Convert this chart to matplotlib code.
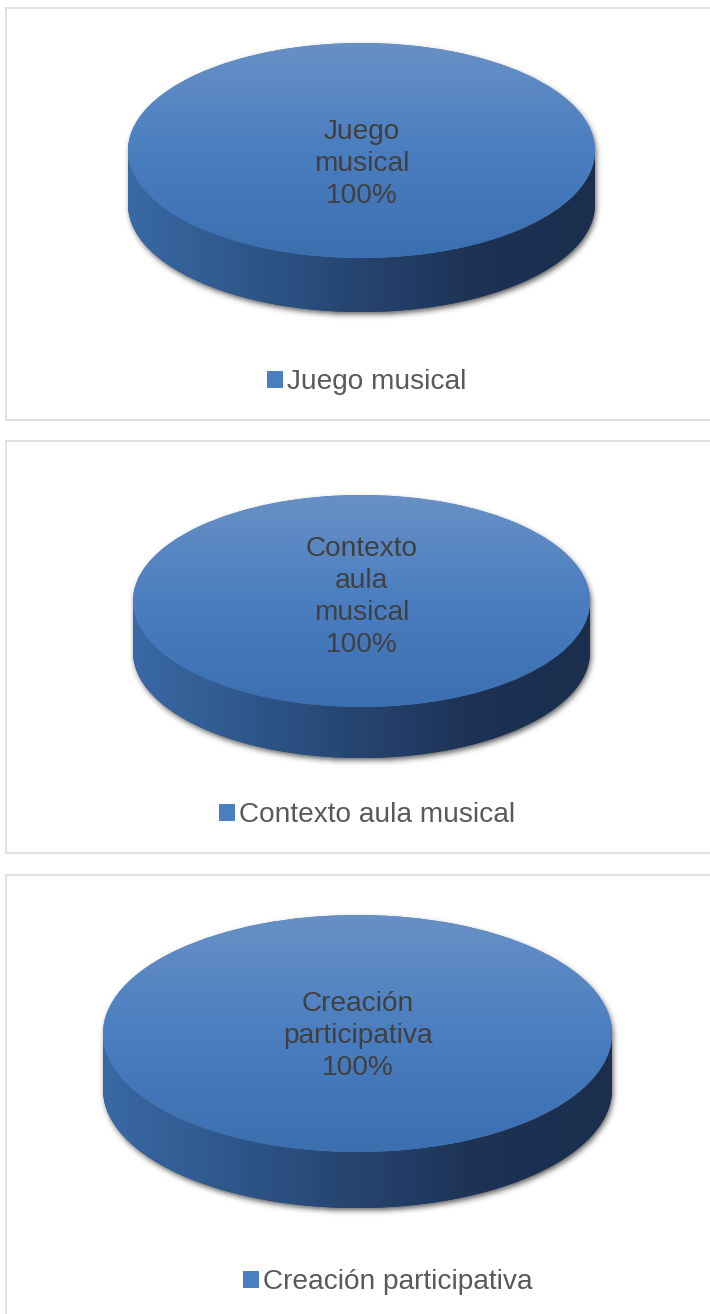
import numpy as np
import matplotlib
matplotlib.use("Agg")
import matplotlib.pyplot as plt
from matplotlib.patches import Polygon
from matplotlib.colors import LinearSegmentedColormap

plt.rcParams['font.family'] = ['Liberation Sans', 'DejaVu Sans']

# ---------------- data ----------------
categories = ["Juego musical", "Contexto aula musical", "Creación participativa"]
center_labels = ["Juego\nmusical", "Contexto\naula\nmusical", "Creación\nparticipativa"]
shares_juego = [100]
shares_contexto = [100]
shares_creacion = [100]
pie_values = [shares_juego, shares_contexto, shares_creacion]

# ---------------- layout (pixels, image coords with y downward) ----------------
W, H, DPI = 710, 1314, 100
panel_boxes = [(6, 8, 730, 420), (6, 441, 730, 853), (6, 875, 740, 1340)]
pie_geom = [(361.5, 150.5, 233.5, 107.5, 54),
            (361.5, 601.0, 228.5, 106.0, 51),
            (357.5, 1033.5, 254.5, 118.5, 56)]
label_y = [164, 597, 1036]
legend_pos = [(367, 382), (367.5, 815), (388, 1282)]
spines_visible = [("left", "top", "bottom"), ("left", "top", "bottom"), ("left", "top")]

FS = 28 * 72 / DPI
top_cmap = LinearSegmentedColormap.from_list("top", ["#3c6fb0", "#4a7ec0", "#6890c6"])
side_cmap = LinearSegmentedColormap.from_list(
    "side", ["#3a69a5", "#2f578b", "#25446f", "#1d3254", "#1b2e4e"])


def blur(a, sigma):
    r = int(3 * sigma)
    k = np.exp(-0.5 * (np.arange(-r, r + 1) / sigma) ** 2)
    k /= k.sum()
    p = np.pad(a, r, mode='constant')
    tmp = sum(k[j] * np.roll(p, j - r, axis=1) for j in range(2 * r + 1))
    out = sum(k[j] * np.roll(tmp, j - r, axis=0) for j in range(2 * r + 1))
    return out[r:-r, r:-r]


fig = plt.figure(figsize=(W / DPI, H / DPI), dpi=DPI)
fig.patch.set_facecolor('white')

for i in range(3):
    x0, y0, x1, y1 = panel_boxes[i]
    cx, cy, rx, ry, depth = pie_geom[i]
    ax = fig.add_axes([x0 / W, 1 - y1 / H, (x1 - x0) / W, (y1 - y0) / H])

    wedges, _ = ax.pie(pie_values[i], radius=1, center=(0, 0), startangle=90,
                       counterclock=False, colors=["#4a7ebf"],
                       wedgeprops=dict(linewidth=0))
    top = wedges[0]
    top.set_zorder(2)
    d = depth / ry

    # soft shadow (silhouette of the disc, shifted and blurred)
    pad = 20
    Xs = np.arange(-rx - pad, rx + pad + 1, 1.0)
    Ys = np.arange(-ry - depth - pad, ry + pad + 1, 1.0)
    XX, YY = np.meshgrid(Xs, Ys)
    sx, sy = 1.5, -3.0
    Xr = (XX - sx) / rx
    Yr = (YY - sy)
    inside = np.abs(Xr) <= 1
    half = ry * np.sqrt(np.clip(1 - Xr ** 2, 0, None))
    mask = (inside & (Yr <= half) & (Yr >= -depth - half)).astype(float)
    sh = blur(mask, 3.0)
    rgba = np.zeros(sh.shape + (4,))
    rgba[..., 3] = 0.65 * sh
    ax.imshow(rgba, extent=[Xs[0] / rx, Xs[-1] / rx, Ys[0] / ry, Ys[-1] / ry],
              origin='lower', aspect='auto', zorder=0.2, interpolation='bilinear')

    # side of the disc
    t = np.linspace(np.pi, 2 * np.pi, 200)
    upper = np.column_stack([np.cos(t), np.sin(t)])
    lower = np.column_stack([np.cos(t[::-1]), np.sin(t[::-1]) - d])
    side = Polygon(np.vstack([upper, lower]), closed=True, facecolor="#25446f",
                   edgecolor='none', zorder=1)
    ax.add_patch(side)
    hgrad = np.linspace(0, 1, 256).reshape(1, -1)
    im_side = ax.imshow(hgrad, extent=[-1, 1, -1 - d, 0], origin='lower',
                        aspect='auto', cmap=side_cmap, zorder=1.1)
    im_side.set_clip_path(side)

    # top face gradient
    vgrad = np.linspace(0, 1, 256).reshape(-1, 1)
    im_top = ax.imshow(vgrad, extent=[-1, 1, -1, 1], origin='lower',
                       aspect='auto', cmap=top_cmap, zorder=2.1)
    im_top.set_clip_path(top)

    # data label
    ax.text(0, (cy - label_y[i]) / ry, center_labels[i] + "\n" + f"{pie_values[i][0]}%",
            ha='center', va='center', fontsize=FS, color='#404040',
            linespacing=1.31, zorder=5)

    # legend
    ax.legend([top], [categories[i]], loc='center',
              bbox_to_anchor=(legend_pos[i][0] / W, 1 - legend_pos[i][1] / H),
              bbox_transform=fig.transFigure, frameon=False,
              prop=dict(size=FS), handlelength=0.56, handleheight=0.56,
              handletextpad=0.15, borderpad=0, borderaxespad=0,
              labelcolor='#595959')

    ax.set_aspect('auto')
    ax.set_xlim((x0 - cx) / rx, (x1 - cx) / rx)
    ax.set_ylim((cy - y1) / ry, (cy - y0) / ry)
    ax.set_frame_on(True)
    ax.set_xticks([])
    ax.set_yticks([])
    for name, sp in ax.spines.items():
        sp.set_visible(name in spines_visible[i])
        sp.set_color('#d9d9d9')
        sp.set_linewidth(1.1)

fig.savefig("out.png", dpi=DPI, facecolor='white')
